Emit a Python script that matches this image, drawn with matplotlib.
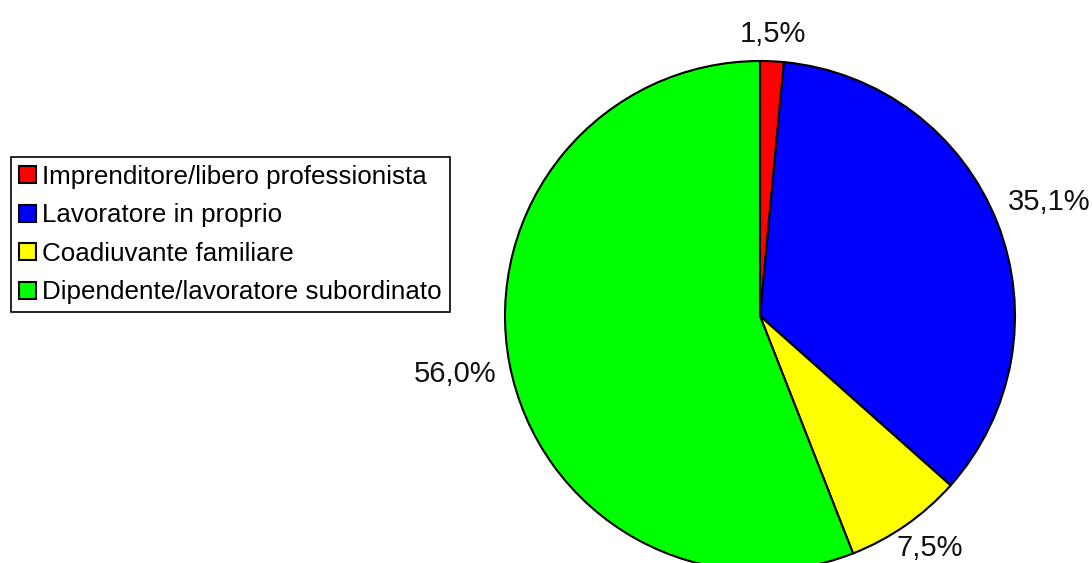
import numpy as np
import matplotlib.pyplot as plt
from matplotlib.patches import Patch

categories = ['Imprenditore/libero professionista', 'Lavoratore in proprio',
              'Coadiuvante familiare', 'Dipendente/lavoratore subordinato']
values = [1.5, 35.1, 7.5, 56.0]
labels = ['1,5%', '35,1%', '7,5%', '56,0%']
colors = ['#ff0000', '#0000ff', '#ffff00', '#00ff00']

plt.rcParams['font.family'] = ['Liberation Sans', 'DejaVu Sans']

fig = plt.figure(figsize=(10.92, 5.63), dpi=100)
ax = fig.add_axes([0, 0, 1, 1])

cx, cy, r = 760, 247, 255
wedges, _ = ax.pie(values, colors=colors, startangle=90, counterclock=False,
                   center=(cx, cy), radius=r, frame=True,
                   wedgeprops=dict(edgecolor='black', linewidth=1.5))
ax.set_xlim(0, 1092)
ax.set_ylim(0, 563)
ax.axis('off')

# labels outside the pie, a fixed gap between pie edge and label box
renderer = fig.canvas.get_renderer()
gap = 12
for w, lab in zip(wedges, labels):
    ang = np.deg2rad((w.theta1 + w.theta2) / 2)
    t = ax.text(cx, cy, lab, ha='center', va='center', fontsize=21, color='#111111')
    bb = t.get_window_extent(renderer)
    half = abs(np.cos(ang)) * bb.width / 2 + abs(np.sin(ang)) * bb.height / 2
    d = r + gap + half
    x, y = cx + d * np.cos(ang), cy + d * np.sin(ang)
    # keep the label inside the figure at the bottom
    y = max(y, bb.height / 2 + 1)
    t.set_position((x, y))

handles = [Patch(facecolor=c, edgecolor='black', linewidth=1.5) for c in colors]
leg = ax.legend(handles, categories, loc='upper left',
                bbox_to_anchor=(11 / 1092, 1 - 157 / 563), bbox_transform=fig.transFigure,
                fontsize=18.7, frameon=True, fancybox=False, framealpha=1,
                edgecolor='black', handlelength=0.65, handleheight=0.65,
                handletextpad=0.25, labelspacing=0.56, borderpad=0.3,
                borderaxespad=0)
leg.get_frame().set_linewidth(1.2)

fig.savefig('out.png', dpi=100)
